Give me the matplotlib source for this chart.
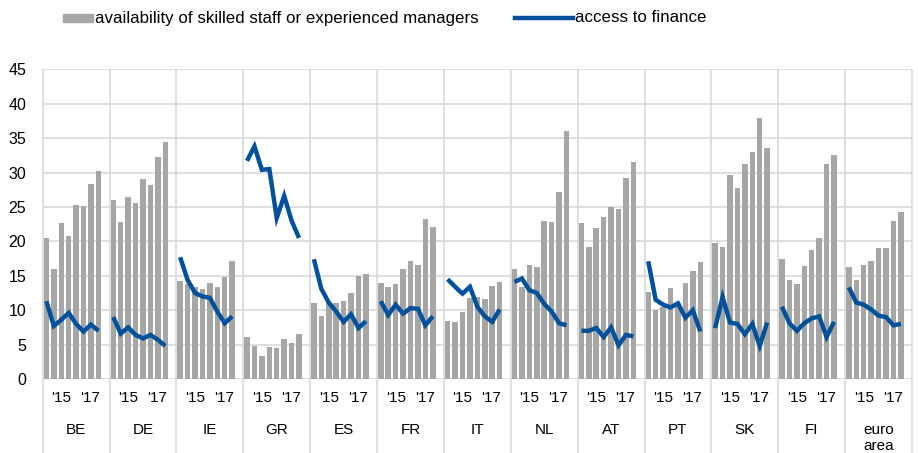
import numpy as np
import matplotlib
matplotlib.use('Agg')
import matplotlib.pyplot as plt
from matplotlib.patches import Rectangle
from matplotlib.lines import Line2D

plt.rcParams['font.family'] = ['Liberation Sans', 'DejaVu Sans']

countries = ['BE', 'DE', 'IE', 'GR', 'ES', 'FR', 'IT', 'NL', 'AT', 'PT', 'SK', 'FI', 'euro\narea']
year_labels = ["'15", "'17"]

# eight survey waves per country
skilled_staff = [
    [20.5, 16.0, 22.7, 20.8, 25.3, 25.1, 28.3, 30.2],   # BE
    [26.0, 22.8, 26.5, 25.5, 29.1, 28.2, 32.2, 34.4],   # DE
    [14.2, 13.8, 13.4, 13.1, 13.9, 13.4, 14.8, 17.2],   # IE
    [6.1, 4.8, 3.4, 4.7, 4.5, 5.8, 5.2, 6.5],           # GR
    [11.1, 9.1, 11.2, 11.1, 11.3, 12.5, 14.9, 15.3],    # ES
    [14.0, 13.4, 13.8, 16.0, 17.2, 16.6, 23.3, 22.1],   # FR
    [8.4, 8.3, 9.7, 11.8, 11.9, 11.6, 13.5, 14.1],      # IT
    [16.0, 13.4, 16.6, 16.3, 23.0, 22.8, 27.2, 36.1],   # NL
    [22.6, 19.2, 22.0, 23.5, 25.0, 24.7, 29.2, 31.5],   # AT
    [12.6, 10.0, 10.4, 13.2, 11.0, 14.0, 15.7, 17.0],   # PT
    [19.8, 19.2, 29.6, 27.7, 31.3, 33.0, 37.9, 33.5],   # SK
    [17.5, 14.4, 13.8, 16.4, 18.8, 20.5, 31.3, 32.6],   # FI
    [16.2, 14.4, 16.6, 17.2, 19.0, 19.1, 22.9, 24.3],   # euro area
]

access_finance = [
    [11.3, 7.7, 8.6, 9.6, 8.0, 6.9, 7.9, 7.0],          # BE
    [9.0, 6.6, 7.5, 6.4, 5.9, 6.4, 5.7, 4.8],           # DE
    [17.7, 14.4, 12.5, 12.0, 11.8, 9.8, 8.1, 9.1],      # IE
    [31.7, 33.8, 30.4, 30.5, 23.4, 26.6, 23.0, 20.5],   # GR
    [17.4, 13.1, 11.1, 9.8, 8.3, 9.4, 7.4, 8.4],        # ES
    [11.3, 9.3, 10.8, 9.5, 10.3, 10.2, 7.8, 9.1],       # FR
    [14.5, 13.4, 12.4, 13.4, 10.5, 9.1, 8.3, 10.1],     # IT
    [14.1, 14.6, 12.9, 12.5, 10.9, 9.8, 8.1, 7.8],      # NL
    [7.0, 7.0, 7.4, 6.1, 7.5, 4.9, 6.4, 6.2],           # AT
    [17.1, 11.5, 10.8, 10.4, 11.0, 8.9, 10.0, 6.9],     # PT
    [7.4, 11.9, 8.2, 8.0, 6.5, 8.0, 4.8, 8.2],          # SK
    [10.5, 8.1, 7.0, 8.1, 8.8, 9.1, 6.1, 8.3],          # FI
    [13.3, 11.1, 10.8, 10.1, 9.2, 9.0, 7.8, 8.0],       # euro area
]

bar_color = '#a6a6a6'
line_color = '#00519c'
grid_color = '#d9d9d9'

fig = plt.figure(figsize=(9.18, 4.53), dpi=100)
ax = fig.add_axes([0.0465, 0.1634, 0.947, 0.6836])

slots = 9  # 8 waves + one empty slot per country
n = len(countries)
for g in range(n):
    x = g * slots + np.arange(8) + 0.5
    ax.bar(x, skilled_staff[g], width=0.74, color=bar_color, zorder=2)
    ax.plot(x, access_finance[g], color=line_color, lw=3.2, zorder=3,
            solid_capstyle='butt', solid_joinstyle='miter')

ax.set_xlim(0, n * slots)
ax.set_ylim(0, 45)
ax.set_yticks(np.arange(0, 46, 5))
ax.yaxis.grid(True, color=grid_color, lw=1.2, zorder=0)
ax.set_xticks([])
ax.tick_params(axis='y', length=0, labelsize=11.5, pad=12)
for s in ax.spines.values():
    s.set_visible(False)

# country separators running down through the label area
xt = ax.get_xaxis_transform()
ax.vlines(np.arange(0, n * slots + 1, slots), -0.24, 1, transform=xt,
          color=grid_color, lw=1.2, zorder=0, clip_on=False)

for g, name in enumerate(countries):
    base = g * slots
    ax.text(base + 2.5, -0.06, year_labels[0], transform=xt, ha='center', va='center', fontsize=11)
    ax.text(base + 6.4, -0.06, year_labels[1], transform=xt, ha='center', va='center', fontsize=11)
    if '\n' in name:
        ax.text(base + 4.5, -0.142, name, transform=xt, ha='center', va='top', fontsize=11, linespacing=1.15)
    else:
        ax.text(base + 4.5, -0.165, name, transform=xt, ha='center', va='center', fontsize=11)

# legend
fig.patches.append(Rectangle((63 / 918, 1 - 22 / 453), 30 / 918, 8 / 453,
                             transform=fig.transFigure, color=bar_color))
fig.text(95 / 918, 1 - 18 / 453, 'availability of skilled staff or experienced managers',
         ha='left', va='center', fontsize=12.2)
fig.lines.append(Line2D([515 / 918, 573 / 918], [1 - 18 / 453, 1 - 18 / 453],
                        transform=fig.transFigure, color=line_color, lw=3.2))
fig.text(575 / 918, 1 - 18 / 453, 'access to finance', ha='left', va='center', fontsize=12.2)

fig.savefig('out.png', dpi=100)
